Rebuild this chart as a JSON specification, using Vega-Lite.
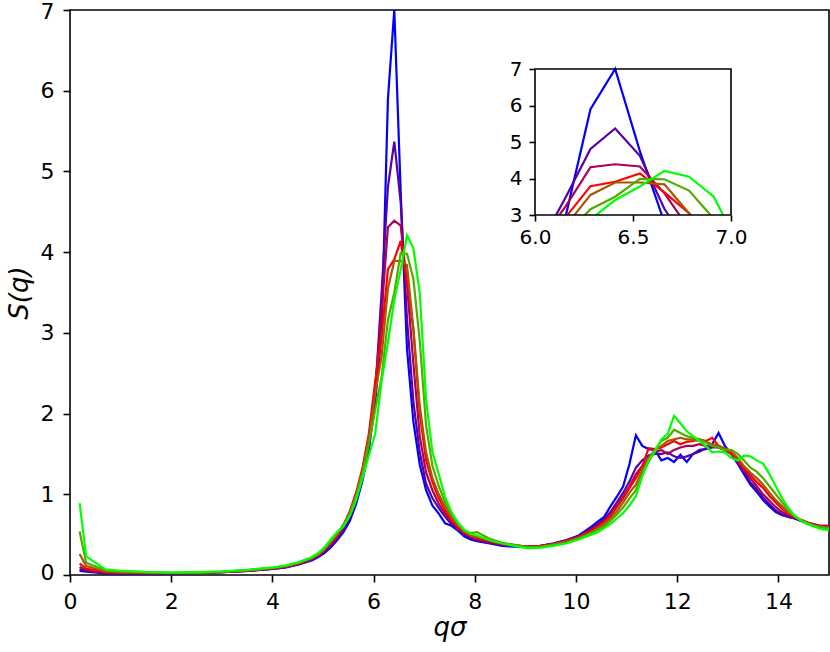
{
  "$schema": "https://vega.github.io/schema/vega-lite/v6.json",
  "width": 759,
  "height": 565,
  "autosize": "none",
  "padding": {"left": 70, "top": 10, "right": 1, "bottom": 77},
  "background": "white",
  "datasets": {
    "sq": [
      {"q": 0.19, "blue": 0.05, "purple": 0.07, "magenta": 0.10, "red": 0.14, "brown": 0.26, "olive": 0.54, "green": 0.89},
      {"q": 0.32, "blue": 0.04, "purple": 0.05, "magenta": 0.06, "red": 0.08, "brown": 0.11, "olive": 0.15, "green": 0.23},
      {"q": 0.70, "blue": 0.02, "purple": 0.025, "magenta": 0.03, "red": 0.035, "brown": 0.045, "olive": 0.06, "green": 0.07},
      {"q": 1.005, "blue": 0.02, "purple": 0.02, "magenta": 0.025, "red": 0.03, "brown": 0.035, "olive": 0.045, "green": 0.05},
      {"q": 1.508, "blue": 0.015, "purple": 0.02, "magenta": 0.02, "red": 0.025, "brown": 0.03, "olive": 0.035, "green": 0.035},
      {"q": 2.011, "blue": 0.02, "purple": 0.02, "magenta": 0.02, "red": 0.025, "brown": 0.025, "olive": 0.03, "green": 0.03},
      {"q": 2.513, "blue": 0.025, "purple": 0.025, "magenta": 0.025, "red": 0.03, "brown": 0.03, "olive": 0.03, "green": 0.035},
      {"q": 3.016, "blue": 0.035, "purple": 0.035, "magenta": 0.035, "red": 0.04, "brown": 0.04, "olive": 0.04, "green": 0.045},
      {"q": 3.519, "blue": 0.05, "purple": 0.05, "magenta": 0.055, "red": 0.055, "brown": 0.06, "olive": 0.06, "green": 0.065},
      {"q": 4.021, "blue": 0.075, "purple": 0.08, "magenta": 0.08, "red": 0.085, "brown": 0.09, "olive": 0.09, "green": 0.095},
      {"q": 4.273, "blue": 0.095, "purple": 0.1, "magenta": 0.1, "red": 0.105, "brown": 0.11, "olive": 0.115, "green": 0.12},
      {"q": 4.524, "blue": 0.13, "purple": 0.135, "magenta": 0.14, "red": 0.145, "brown": 0.15, "olive": 0.155, "green": 0.16},
      {"q": 4.775, "blue": 0.18, "purple": 0.19, "magenta": 0.2, "red": 0.2, "brown": 0.21, "olive": 0.21, "green": 0.22},
      {"q": 4.901, "blue": 0.22, "purple": 0.23, "magenta": 0.24, "red": 0.25, "brown": 0.25, "olive": 0.26, "green": 0.27},
      {"q": 5.027, "blue": 0.27, "purple": 0.29, "magenta": 0.3, "red": 0.31, "brown": 0.32, "olive": 0.33, "green": 0.34},
      {"q": 5.152, "blue": 0.34, "purple": 0.36, "magenta": 0.38, "red": 0.4, "brown": 0.41, "olive": 0.42, "green": 0.44},
      {"q": 5.278, "blue": 0.43, "purple": 0.45, "magenta": 0.47, "red": 0.49, "brown": 0.5, "olive": 0.52, "green": 0.53},
      {"q": 5.404, "blue": 0.53, "purple": 0.56, "magenta": 0.59, "red": 0.62, "brown": 0.62, "olive": 0.62, "green": 0.6},
      {"q": 5.529, "blue": 0.67, "purple": 0.71, "magenta": 0.75, "red": 0.79, "brown": 0.77, "olive": 0.76, "green": 0.73},
      {"q": 5.655, "blue": 0.88, "purple": 0.93, "magenta": 0.98, "red": 1.02, "brown": 0.99, "olive": 0.97, "green": 0.93},
      {"q": 5.781, "blue": 1.17, "purple": 1.22, "magenta": 1.28, "red": 1.33, "brown": 1.3, "olive": 1.26, "green": 1.2},
      {"q": 5.906, "blue": 1.55, "purple": 1.6, "magenta": 1.66, "red": 1.75, "brown": 1.7, "olive": 1.62, "green": 1.48},
      {"q": 6.032, "blue": 2.15, "purple": 2.25, "magenta": 2.32, "red": 2.4, "brown": 2.25, "olive": 2.05, "green": 1.75},
      {"q": 6.158, "blue": 3.0, "purple": 3.5, "magenta": 3.25, "red": 2.95, "brown": 2.71, "olive": 2.45, "green": 2.4},
      {"q": 6.283, "blue": 5.9, "purple": 4.81, "magenta": 4.31, "red": 3.79, "brown": 3.55, "olive": 3.16, "green": 2.88},
      {"q": 6.409, "blue": 7.0, "purple": 5.37, "magenta": 4.39, "red": 3.91, "brown": 3.89, "olive": 3.5, "green": 3.41},
      {"q": 6.535, "blue": 4.75, "purple": 4.62, "magenta": 4.33, "red": 4.14, "brown": 3.89, "olive": 3.99, "green": 3.78},
      {"q": 6.660, "blue": 2.8, "purple": 3.17, "magenta": 3.6, "red": 3.62, "brown": 3.84, "olive": 3.98, "green": 4.21},
      {"q": 6.786, "blue": 1.9, "purple": 2.15, "magenta": 2.62, "red": 3.05, "brown": 3.05, "olive": 3.67, "green": 4.05},
      {"q": 6.912, "blue": 1.37, "purple": 1.52, "magenta": 1.72, "red": 2.0, "brown": 2.1, "olive": 2.9, "green": 3.5},
      {"q": 7.037, "blue": 1.05, "purple": 1.13, "magenta": 1.27, "red": 1.42, "brown": 1.52, "olive": 1.85, "green": 2.17},
      {"q": 7.163, "blue": 0.86, "purple": 0.95, "magenta": 1.05, "red": 1.15, "brown": 1.2, "olive": 1.35, "green": 1.52},
      {"q": 7.288, "blue": 0.76, "purple": 0.83, "magenta": 0.88, "red": 0.95, "brown": 1.0, "olive": 1.1, "green": 1.25},
      {"q": 7.414, "blue": 0.64, "purple": 0.72, "magenta": 0.76, "red": 0.8, "brown": 0.85, "olive": 0.9, "green": 0.96},
      {"q": 7.540, "blue": 0.61, "purple": 0.63, "magenta": 0.66, "red": 0.68, "brown": 0.72, "olive": 0.76, "green": 0.78},
      {"q": 7.665, "blue": 0.55, "purple": 0.56, "magenta": 0.58, "red": 0.6, "brown": 0.62, "olive": 0.64, "green": 0.65},
      {"q": 7.791, "blue": 0.48, "purple": 0.5, "magenta": 0.52, "red": 0.53, "brown": 0.54, "olive": 0.55, "green": 0.56},
      {"q": 7.917, "blue": 0.44, "purple": 0.46, "magenta": 0.47, "red": 0.48, "brown": 0.49, "olive": 0.52, "green": 0.51},
      {"q": 8.042, "blue": 0.42, "purple": 0.43, "magenta": 0.44, "red": 0.46, "brown": 0.47, "olive": 0.53, "green": 0.49},
      {"q": 8.294, "blue": 0.39, "purple": 0.4, "magenta": 0.41, "red": 0.42, "brown": 0.43, "olive": 0.45, "green": 0.43},
      {"q": 8.545, "blue": 0.36, "purple": 0.37, "magenta": 0.38, "red": 0.39, "brown": 0.39, "olive": 0.4, "green": 0.39},
      {"q": 8.796, "blue": 0.35, "purple": 0.36, "magenta": 0.36, "red": 0.37, "brown": 0.37, "olive": 0.37, "green": 0.36},
      {"q": 9.048, "blue": 0.35, "purple": 0.35, "magenta": 0.35, "red": 0.35, "brown": 0.35, "olive": 0.34, "green": 0.33},
      {"q": 9.299, "blue": 0.36, "purple": 0.36, "magenta": 0.36, "red": 0.36, "brown": 0.35, "olive": 0.35, "green": 0.34},
      {"q": 9.550, "blue": 0.39, "purple": 0.39, "magenta": 0.38, "red": 0.38, "brown": 0.38, "olive": 0.37, "green": 0.36},
      {"q": 9.802, "blue": 0.43, "purple": 0.43, "magenta": 0.42, "red": 0.42, "brown": 0.41, "olive": 0.4, "green": 0.39},
      {"q": 10.053, "blue": 0.49, "purple": 0.48, "magenta": 0.47, "red": 0.47, "brown": 0.46, "olive": 0.45, "green": 0.44},
      {"q": 10.304, "blue": 0.6, "purple": 0.58, "magenta": 0.56, "red": 0.55, "brown": 0.53, "olive": 0.52, "green": 0.5},
      {"q": 10.430, "blue": 0.66, "purple": 0.63, "magenta": 0.61, "red": 0.6, "brown": 0.58, "olive": 0.56, "green": 0.53},
      {"q": 10.556, "blue": 0.72, "purple": 0.69, "magenta": 0.67, "red": 0.66, "brown": 0.63, "olive": 0.6, "green": 0.58},
      {"q": 10.681, "blue": 0.85, "purple": 0.78, "magenta": 0.75, "red": 0.73, "brown": 0.7, "olive": 0.67, "green": 0.63},
      {"q": 10.807, "blue": 0.97, "purple": 0.9, "magenta": 0.86, "red": 0.84, "brown": 0.79, "olive": 0.75, "green": 0.7},
      {"q": 10.933, "blue": 1.1, "purple": 1.02, "magenta": 0.97, "red": 0.95, "brown": 0.9, "olive": 0.84, "green": 0.77},
      {"q": 11.058, "blue": 1.38, "purple": 1.16, "magenta": 1.1, "red": 1.08, "brown": 1.02, "olive": 0.95, "green": 0.86},
      {"q": 11.184, "blue": 1.73, "purple": 1.33, "magenta": 1.25, "red": 1.2, "brown": 1.12, "olive": 1.05, "green": 0.98},
      {"q": 11.310, "blue": 1.6, "purple": 1.42, "magenta": 1.35, "red": 1.35, "brown": 1.3, "olive": 1.25, "green": 1.22},
      {"q": 11.435, "blue": 1.56, "purple": 1.48, "magenta": 1.45, "red": 1.57, "brown": 1.45, "olive": 1.4, "green": 1.42},
      {"q": 11.561, "blue": 1.55, "purple": 1.5, "magenta": 1.52, "red": 1.56, "brown": 1.55, "olive": 1.55, "green": 1.53},
      {"q": 11.686, "blue": 1.42, "purple": 1.5, "magenta": 1.55, "red": 1.58, "brown": 1.6, "olive": 1.66, "green": 1.68},
      {"q": 11.812, "blue": 1.45, "purple": 1.52, "magenta": 1.5, "red": 1.62, "brown": 1.66, "olive": 1.7, "green": 1.75},
      {"q": 11.938, "blue": 1.4, "purple": 1.47, "magenta": 1.55, "red": 1.66, "brown": 1.68, "olive": 1.8, "green": 1.97},
      {"q": 12.063, "blue": 1.49, "purple": 1.45, "magenta": 1.58, "red": 1.62, "brown": 1.7, "olive": 1.76, "green": 1.88},
      {"q": 12.189, "blue": 1.4, "purple": 1.47, "magenta": 1.6, "red": 1.65, "brown": 1.68, "olive": 1.72, "green": 1.78},
      {"q": 12.315, "blue": 1.5, "purple": 1.5, "magenta": 1.6, "red": 1.66, "brown": 1.68, "olive": 1.7, "green": 1.72},
      {"q": 12.440, "blue": 1.53, "purple": 1.55, "magenta": 1.62, "red": 1.68, "brown": 1.66, "olive": 1.68, "green": 1.66},
      {"q": 12.566, "blue": 1.57, "purple": 1.56, "magenta": 1.6, "red": 1.66, "brown": 1.65, "olive": 1.64, "green": 1.6},
      {"q": 12.692, "blue": 1.62, "purple": 1.58, "magenta": 1.6, "red": 1.7, "brown": 1.62, "olive": 1.6, "green": 1.52},
      {"q": 12.817, "blue": 1.76, "purple": 1.58, "magenta": 1.58, "red": 1.6, "brown": 1.6, "olive": 1.58, "green": 1.53},
      {"q": 12.943, "blue": 1.6, "purple": 1.55, "magenta": 1.55, "red": 1.55, "brown": 1.57, "olive": 1.55, "green": 1.52},
      {"q": 13.069, "blue": 1.5, "purple": 1.5, "magenta": 1.52, "red": 1.5, "brown": 1.53, "olive": 1.55, "green": 1.45},
      {"q": 13.195, "blue": 1.38, "purple": 1.4, "magenta": 1.42, "red": 1.42, "brown": 1.45, "olive": 1.5, "green": 1.42},
      {"q": 13.320, "blue": 1.25, "purple": 1.28, "magenta": 1.3, "red": 1.32, "brown": 1.35, "olive": 1.42, "green": 1.48},
      {"q": 13.446, "blue": 1.12, "purple": 1.15, "magenta": 1.2, "red": 1.24, "brown": 1.27, "olive": 1.33, "green": 1.47},
      {"q": 13.572, "blue": 1.03, "purple": 1.06, "magenta": 1.1, "red": 1.15, "brown": 1.2, "olive": 1.28, "green": 1.42},
      {"q": 13.697, "blue": 0.93, "purple": 0.96, "magenta": 1.0, "red": 1.08, "brown": 1.12, "olive": 1.2, "green": 1.38},
      {"q": 13.823, "blue": 0.85, "purple": 0.88, "magenta": 0.92, "red": 0.98, "brown": 1.02, "olive": 1.1, "green": 1.25},
      {"q": 13.948, "blue": 0.78, "purple": 0.8, "magenta": 0.84, "red": 0.9, "brown": 0.93, "olive": 1.0, "green": 1.1},
      {"q": 14.074, "blue": 0.74, "purple": 0.75, "magenta": 0.78, "red": 0.82, "brown": 0.85, "olive": 0.9, "green": 0.95},
      {"q": 14.200, "blue": 0.72, "purple": 0.72, "magenta": 0.74, "red": 0.76, "brown": 0.77, "olive": 0.8, "green": 0.83},
      {"q": 14.325, "blue": 0.7, "purple": 0.7, "magenta": 0.71, "red": 0.72, "brown": 0.72, "olive": 0.73, "green": 0.73},
      {"q": 14.451, "blue": 0.67, "purple": 0.67, "magenta": 0.68, "red": 0.68, "brown": 0.68, "olive": 0.68, "green": 0.67},
      {"q": 14.577, "blue": 0.64, "purple": 0.64, "magenta": 0.65, "red": 0.65, "brown": 0.64, "olive": 0.64, "green": 0.63},
      {"q": 14.702, "blue": 0.62, "purple": 0.62, "magenta": 0.63, "red": 0.62, "brown": 0.62, "olive": 0.61, "green": 0.6},
      {"q": 14.828, "blue": 0.6, "purple": 0.61, "magenta": 0.61, "red": 0.6, "brown": 0.6, "olive": 0.59, "green": 0.57},
      {"q": 14.953, "blue": 0.59, "purple": 0.61, "magenta": 0.61, "red": 0.6, "brown": 0.59, "olive": 0.58, "green": 0.56},
      {"q": 15.08, "blue": 0.58, "purple": 0.6, "magenta": 0.6, "red": 0.59, "brown": 0.58, "olive": 0.57, "green": 0.55}
    ],
    "one": [{}]
  },
  "config": {
    "font": "DejaVu Sans",
    "view": {"stroke": "black", "strokeWidth": 1.6},
    "axis": {
      "grid": false,
      "labelFlush": false,
      "labelOverlap": false,
      "labelFont": "DejaVu Sans",
      "titleFont": "DejaVu Sans",
      "labelColor": "black",
      "titleColor": "black",
      "tickColor": "black",
      "domainColor": "black",
      "tickWidth": 1.6,
      "titleFontWeight": "normal"
    },
    "line": {"strokeWidth": 2.2}
  },
  "resolve": {"scale": {"x": "independent", "y": "independent"}},
  "layer": [
    {
      "data": {"name": "sq"},
      "transform": [
        {"fold": ["blue", "purple", "magenta", "red", "brown", "olive", "green"], "as": ["series", "S"]}
      ],
      "mark": {"type": "line", "clip": true},
      "encoding": {
        "x": {
          "field": "q", "type": "quantitative",
          "scale": {"domain": [0, 15], "nice": false},
          "axis": {"orient": "bottom", "values": [0, 2, 4, 6, 8, 10, 12, 14], "format": "d", "domain": false, "tickSize": 7, "labelFontSize": 22, "labelPadding": 9, "title": "qσ", "titleFontSize": 26, "titleFontStyle": "italic", "titlePadding": 2}
        },
        "y": {
          "field": "S", "type": "quantitative",
          "scale": {"domain": [0, 7], "nice": false},
          "axis": {"orient": "left", "values": [0, 1, 2, 3, 4, 5, 6, 7], "format": "d", "domain": false, "tickSize": 7, "labelFontSize": 22, "labelPadding": 9, "labelFlush": true, "labelFlushOffset": 9, "title": "S(q)", "titleFontSize": 26, "titleFontStyle": "italic", "titlePadding": 8}
        },
        "color": {
          "field": "series", "type": "nominal", "legend": null,
          "scale": {"domain": ["blue", "purple", "magenta", "red", "brown", "olive", "green"], "range": ["#0000ff", "#5500aa", "#aa0055", "#ff0000", "#aa5500", "#55aa00", "#00ff00"]}
        }
      }
    },
    {
      "layer": [
        {
          "data": {"name": "sq"},
          "transform": [
            {"filter": "datum.q > 6.0 && datum.q < 7.1"},
            {"fold": ["blue", "purple", "magenta", "red", "brown", "olive", "green"], "as": ["series", "S"]}
          ],
          "mark": {"type": "line"},
          "encoding": {
            "x": {
              "field": "q", "type": "quantitative",
              "scale": {"domain": [6, 7], "range": [465, 661], "nice": false, "zero": false},
              "axis": {"orient": "bottom", "offset": -360, "values": [6, 6.5, 7], "format": ".1f", "domain": false, "tickSize": 6, "labelFontSize": 20, "labelPadding": 6, "title": null, "zindex": 1}
            },
            "y": {
              "field": "S", "type": "quantitative",
              "scale": {"domain": [3, 7], "range": [205, 59], "nice": false, "zero": false},
              "axis": {"orient": "left", "offset": -465, "values": [3, 4, 5, 6, 7], "format": "d", "domain": false, "tickSize": 6, "labelFontSize": 20, "labelPadding": 7, "title": null, "zindex": 1}
            },
            "color": {
              "field": "series", "type": "nominal", "legend": null,
              "scale": {"domain": ["blue", "purple", "magenta", "red", "brown", "olive", "green"], "range": ["#0000ff", "#5500aa", "#aa0055", "#ff0000", "#aa5500", "#55aa00", "#00ff00"]}
            }
          }
        },
        {
          "data": {"name": "one"},
          "mark": {"type": "rect", "fill": "white", "stroke": null},
          "encoding": {
            "x": {"datum": 5.85, "type": "quantitative"},
            "x2": {"datum": 7.2},
            "y": {"datum": 3, "type": "quantitative"},
            "y2": {"datum": 0.8}
          }
        },
        {
          "data": {"name": "one"},
          "mark": {"type": "rect", "fill": null, "stroke": "black", "strokeWidth": 1.6},
          "encoding": {
            "x": {"datum": 6, "type": "quantitative"},
            "x2": {"datum": 7},
            "y": {"datum": 3, "type": "quantitative"},
            "y2": {"datum": 7}
          }
        }
      ]
    }
  ]
}
